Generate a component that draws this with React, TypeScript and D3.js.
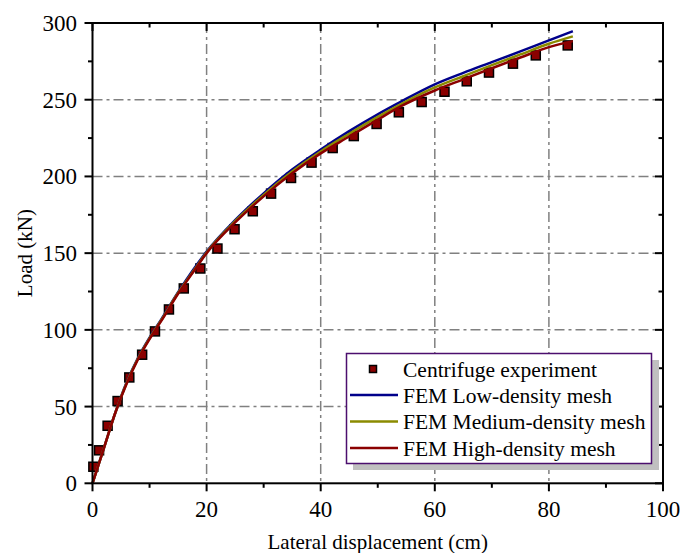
import React from 'react'
import * as d3 from 'd3'

// centrifuge test points (cm, kN)
const expX = [0.15, 1.15, 2.65, 4.4, 6.45, 8.7, 10.95, 13.4, 16.0, 18.9, 21.9, 24.9, 28.1, 31.3, 34.8, 38.4, 42.1, 45.8, 49.8, 53.7, 57.7, 61.7, 65.6, 69.5, 73.7, 77.7, 83.3]
const expY = [10.8, 21.5, 37.5, 53.6, 69, 83.8, 99, 113.3, 127, 140, 153, 165.6, 177.3, 188.8, 199, 209, 218.5, 226.3, 234.2, 241.8, 248.5, 255.2, 262, 267.7, 273.5, 278.9, 285.4]

// FEM curves
const femX = [0, 2, 4, 6, 8, 10, 12, 15, 18, 20, 25, 30, 35, 40, 45, 50, 54, 60, 65, 70, 75, 80, 84.2]
const lowY = [0, 23, 46, 66, 82, 95, 106.5, 124.5, 141, 151, 171.5, 189, 204.5, 217.5, 229.5, 240.5, 248.6, 260, 267.5, 274.5, 281.5, 288.7, 294.6]
const mediumY = [0, 23, 46, 65.5, 81.5, 94.5, 106, 124, 140, 150.5, 170.8, 188, 203.3, 216.3, 227.8, 238.8, 247, 258, 265.3, 272.5, 279.5, 286.5, 291.3]
const highY = [0, 23, 46, 65, 81, 94, 105.5, 123.5, 139.5, 150, 170, 187, 202, 215, 226, 237, 245.6, 256, 263.3, 270.5, 277.5, 284.3, 288.2]

const xTicks = [0, 20, 40, 60, 80, 100]
const yTicks = [0, 50, 100, 150, 200, 250, 300]
const xMinor = [10, 30, 50, 70, 90]
const yMinor = [25, 75, 125, 175, 225, 275]

const series = [
  { name: 'FEM Low-density mesh', ys: lowY, color: '#00008b' },
  { name: 'FEM Medium-density mesh', ys: mediumY, color: '#8b8b00' },
  { name: 'FEM High-density mesh', ys: highY, color: '#8b0000' },
]

const font = '"Liberation Serif", "Times New Roman", serif'

export default function App() {
  const W = 684
  const H = 553
  const left = 92.5
  const right = 663
  const top = 23
  const bottom = 483.3

  const x = d3.scaleLinear().domain([0, 100]).range([left, right])
  const y = d3.scaleLinear().domain([0, 300]).range([bottom, top])

  const line = d3
    .line<number>()
    .x((_, i) => x(femX[i]))
    .y((d) => y(d))
    .curve(d3.curveMonotoneX)

  const grid = '#808080'
  const dash = '10,4,3,4'
  const sq = 9

  return (
    <svg width={W} height={H} style={{ position: 'absolute', left: 0, top: 0 }}>
      <rect x={0} y={0} width={W} height={H} fill="#fff" />
      {/* grid */}
      {xTicks.slice(1, -1).map((t) => (
        <line key={'gx' + t} x1={x(t)} x2={x(t)} y1={top} y2={bottom} stroke={grid} strokeWidth={1.5} strokeDasharray={dash} />
      ))}
      {yTicks.slice(1, -1).map((t) => (
        <line key={'gy' + t} x1={left} x2={right} y1={y(t)} y2={y(t)} stroke={grid} strokeWidth={1.5} strokeDasharray={dash} />
      ))}

      {/* experiment points */}
      {expX.map((d, i) => (
        <rect key={'p' + i} x={x(d) - sq / 2} y={y(expY[i]) - sq / 2} width={sq} height={sq} fill="#8b0000" stroke="#000" strokeWidth={1.5} />
      ))}

      {/* FEM lines */}
      {series.map((s) => (
        <path key={s.name} d={line(s.ys) || ''} fill="none" stroke={s.color} strokeWidth={2.5} />
      ))}

      {/* frame */}
      <rect x={left} y={top} width={right - left} height={bottom - top} fill="none" stroke="#000" strokeWidth={2} />

      {/* ticks */}
      {xTicks.map((t) => (
        <g key={'xt' + t}>
          <line x1={x(t)} x2={x(t)} y1={bottom} y2={bottom + 8} stroke="#000" strokeWidth={2} />
          <line x1={x(t)} x2={x(t)} y1={top} y2={top + 8} stroke="#000" strokeWidth={2} />
          <text x={x(t)} y={bottom + 34} textAnchor="middle" fontFamily={font} fontSize={23}>{t}</text>
        </g>
      ))}
      {xMinor.map((t) => (
        <g key={'xm' + t}>
          <line x1={x(t)} x2={x(t)} y1={bottom} y2={bottom + 4.5} stroke="#000" strokeWidth={2} />
          <line x1={x(t)} x2={x(t)} y1={top} y2={top + 4.5} stroke="#000" strokeWidth={2} />
        </g>
      ))}
      {yTicks.map((t) => (
        <g key={'yt' + t}>
          <line x1={left - 8} x2={left} y1={y(t)} y2={y(t)} stroke="#000" strokeWidth={2} />
          <line x1={right - 8} x2={right} y1={y(t)} y2={y(t)} stroke="#000" strokeWidth={2} />
          <text x={77} y={y(t)} dy="0.35em" textAnchor="end" fontFamily={font} fontSize={23}>{t}</text>
        </g>
      ))}
      {yMinor.map((t) => (
        <g key={'ym' + t}>
          <line x1={left - 4.5} x2={left} y1={y(t)} y2={y(t)} stroke="#000" strokeWidth={2} />
          <line x1={right - 4.5} x2={right} y1={y(t)} y2={y(t)} stroke="#000" strokeWidth={2} />
        </g>
      ))}

      {/* axis titles */}
      <text x={(left + right) / 2} y={549} textAnchor="middle" fontFamily={font} fontSize={21}>Lateral displacement (cm)</text>
      <text transform={`translate(32,${(top + bottom) / 2}) rotate(-90)`} textAnchor="middle" fontFamily={font} fontSize={21}>Load (kN)</text>

      {/* legend */}
      <rect x={353} y={360} width={306} height={110} fill="#c0c0c0" />
      <rect x={346.5} y={353.5} width={305} height={110} fill="#fff" stroke="#4b0f6e" strokeWidth={1.5} />
      <rect x={373 - 3.5} y={369 - 3.5} width={7} height={7} fill="#8b0000" stroke="#000" strokeWidth={1.5} />
      <text x={403} y={369} dy="0.35em" fontFamily={font} fontSize={21.5}>Centrifuge experiment</text>
      {series.map((s, i) => {
        const ly = 395 + i * 26.5
        return (
          <g key={'lg' + s.name}>
            <line x1={350} x2={398} y1={ly} y2={ly} stroke={s.color} strokeWidth={2.5} />
            <text x={403} y={ly} dy="0.35em" fontFamily={font} fontSize={21.5}>{s.name}</text>
          </g>
        )
      })}
    </svg>
  )
}
